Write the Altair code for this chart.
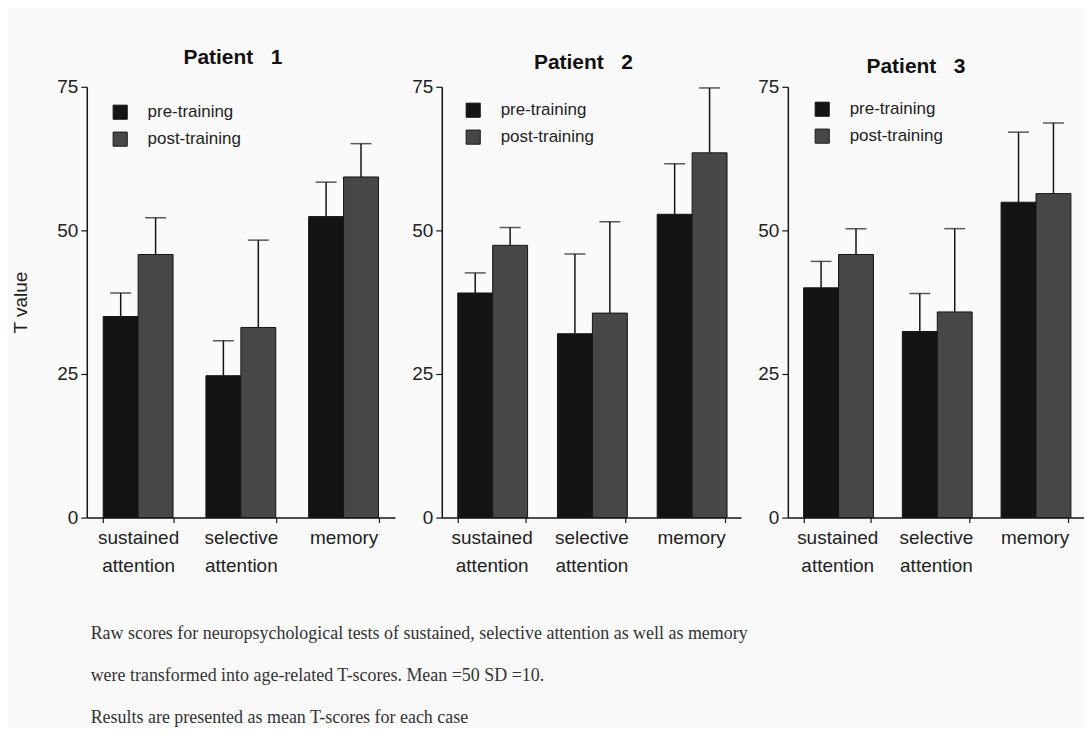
import altair as alt
import pandas as pd

categories = ["sustained attention", "selective attention", "memory"]
conditions = ["pre-training", "post-training"]
patient_titles = ["Patient\u00a0\u00a0\u00a01", "Patient\u00a0\u00a0\u00a02", "Patient\u00a0\u00a0\u00a03"]

# mean T values
p1_pre = [35.0, 24.7, 52.4]
p1_post = [45.8, 33.1, 59.3]
p2_pre = [39.1, 32.0, 52.8]
p2_post = [47.4, 35.6, 63.5]
p3_pre = [40.0, 32.4, 54.9]
p3_post = [45.8, 35.8, 56.4]

# upper end of error bars
p1_pre_up = [39.1, 30.8, 58.4]
p1_post_up = [52.2, 48.3, 65.1]
p2_pre_up = [42.6, 45.9, 61.6]
p2_post_up = [50.5, 51.5, 74.8]
p3_pre_up = [44.6, 39.0, 67.1]
p3_post_up = [50.3, 50.3, 68.7]

y_ticks = [0, 25, 50, 75]

caption_lines = [
    "Raw scores for neuropsychological tests of sustained, selective attention as well as memory",
    "were transformed into age-related T-scores. Mean =50 SD =10.",
    "Results are presented as mean T-scores for each case",
]

SANS = "Liberation Sans"
SERIF = "Liberation Serif"
INK = "#151515"


def make_df(pre, post, pre_up, post_up):
    rows = []
    for i, c in enumerate(categories):
        rows.append({"test": c, "condition": conditions[0], "value": pre[i], "upper": pre_up[i]})
        rows.append({"test": c, "condition": conditions[1], "value": post[i], "upper": post_up[i]})
    return pd.DataFrame(rows)


def panel(df, title, width, title_offset, title_dx, legend_xy, first):
    x = alt.X(
        "test:N",
        sort=categories,
        scale=alt.Scale(paddingInner=0.32, paddingOuter=0.16),
        axis=alt.Axis(
            title=None,
            labelAngle=0,
            labelExpr="split(datum.label, ' ')",
            tickBand="extent",
            tickSize=5,
            labelPadding=6,
            labelFontSize=19,
            labelLineHeight=28,
            labelFont=SANS,
            labelColor="#222",
            domainColor=INK,
            domainWidth=1.5,
            tickColor=INK,
            tickWidth=1.2,
        ),
    )
    xo = alt.XOffset("condition:N", sort=conditions,
                     scale=alt.Scale(domain=conditions, paddingInner=0, paddingOuter=0))
    y_axis = alt.Axis(
        values=y_ticks,
        title="T value" if first else None,
        titleFont=SANS,
        titleFontSize=19,
        titleFontWeight="normal",
        titleColor="#222",
        titlePadding=26,
        grid=False,
        tickSize=6,
        labelPadding=3,
        labelFont=SANS,
        labelFontSize=19,
        labelColor="#222",
        domainColor=INK,
        domainWidth=1.5,
        tickColor=INK,
        tickWidth=1.2,
    )
    yscale = alt.Scale(domain=[0, 75], nice=False)
    color = alt.Color(
        "condition:N",
        sort=conditions,
        scale=alt.Scale(domain=conditions, range=["#141414", "#474747"]),
        legend=alt.Legend(
            title=None,
            orient="none",
            legendX=legend_xy[0],
            legendY=legend_xy[1],
            padding=0,
            symbolType="square",
            symbolSize=200,
            symbolStrokeColor=INK,
            symbolStrokeWidth=1,
            labelFont=SANS,
            labelFontSize=17,
            labelColor="#222",
            labelOffset=19,
            rowPadding=8,
        ),
    )
    bars = alt.Chart(df).mark_bar(stroke=INK, strokeWidth=1).encode(
        x=x, xOffset=xo, y=alt.Y("value:Q", scale=yscale, axis=y_axis), color=color)
    rules = alt.Chart(df).mark_rule(color=INK, strokeWidth=1.5).encode(
        x=x, xOffset=xo, y=alt.Y("value:Q", scale=yscale, axis=y_axis), y2="upper:Q")
    caps = alt.Chart(df).mark_tick(color=INK, thickness=1.5, size=21).encode(
        x=x, xOffset=xo, y=alt.Y("upper:Q", scale=yscale, axis=y_axis))
    return alt.layer(bars, rules, caps).properties(
        width=width,
        height=432,
        title=alt.TitleParams(
            text=title, font=SANS, fontSize=21, fontWeight="bold", color="#111",
            offset=title_offset, dx=title_dx,
        ),
    )


d1 = make_df(p1_pre, p1_post, p1_pre_up, p1_post_up)
d2 = make_df(p2_pre, p2_post, p2_pre_up, p2_post_up)
d3 = make_df(p3_pre, p3_post, p3_pre_up, p3_post_up)

c1 = panel(d1, patient_titles[0], 309, 10, -8, (25, 17), True)
c2 = panel(d2, patient_titles[1], 300, 5, -8, (23, 15), False)
c3 = panel(d3, patient_titles[2], 297, 1, -20, (26, 14), False)

chart = (
    alt.hconcat(c1, c2, c3, spacing=16)
    .resolve_legend(color="independent")
    .properties(
        padding={"left": 3, "top": 38, "right": 0, "bottom": 0},
        background="#fafafa",
        title=alt.TitleParams(
            text=caption_lines,
            orient="bottom",
            anchor="start",
            font=SERIF,
            fontSize=18,
            fontWeight="normal",
            color="#333",
            lineHeight=42,
            offset=50,
            dx=79,
        ),
    )
    .configure_view(stroke=None)
)

chart.save("out.html", embed_options={"renderer": "svg", "actions": False})
